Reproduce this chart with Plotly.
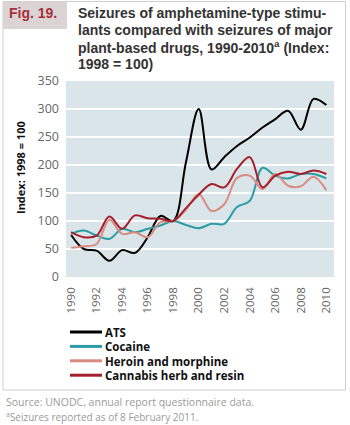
import plotly.graph_objects as go

years = list(range(1990, 2011))
ats = [75, 50, 47, 29, 48, 43, 71, 109, 100, 205, 300, 192, 214, 234, 249, 267, 282, 297, 263, 318, 307]
cocaine = [77, 83, 74, 68, 86, 80, 86, 92, 100, 93, 87, 95, 95, 125, 136, 195, 181, 176, 184, 184, 176]
heroin = [52, 55, 59, 102, 77, 80, 71, 98, 100, 120, 148, 118, 130, 177, 181, 157, 184, 163, 162, 179, 155]
cannabis = [80, 71, 74, 108, 86, 110, 105, 104, 100, 123, 147, 166, 160, 193, 214, 160, 181, 188, 184, 190, 184]

series_names = ["ATS", "Cocaine", "Heroin and morphine", "Cannabis herb and resin"]
series_values = [ats, cocaine, heroin, cannabis]
series_colors = ["#000000", "#2b9ca4", "#d98b82", "#a51f2d"]

y_ticks = [0, 50, 100, 150, 200, 250, 300, 350]
x_ticks = list(range(1990, 2011, 2))

W, H = 350, 425
ML, MR, MT, MB = 66, 16, 81, 148
PW, PH = W - ML - MR, H - MT - MB


def px(x):
    return (x - ML) / PW


def py(y):
    return (H - MB - y) / PH


fig = go.Figure()
for name, vals, col in zip(series_names, series_values, series_colors):
    fig.add_trace(go.Scatter(
        x=years, y=vals, mode="lines", name=name,
        line=dict(color=col, width=2, shape="spline", smoothing=1.0),
        showlegend=False,
    ))

shapes = []
annotations = []

# outer frame
shapes.append(dict(type="rect", xref="paper", yref="paper",
                   x0=px(3), x1=px(345.5), y0=py(390), y1=py(1.5),
                   line=dict(color="#cfcfcf", width=1), fillcolor="rgba(0,0,0,0)", layer="below"))
# Fig. box
shapes.append(dict(type="rect", xref="paper", yref="paper",
                   x0=px(3), x1=px(67), y0=py(29), y1=py(1.5),
                   line=dict(width=0), fillcolor="#dcd4d4", layer="below"))

annotations.append(dict(text="<b>Fig. 19.</b>", xref="paper", yref="paper",
                        x=px(7), y=py(13.5), xanchor="left", yanchor="middle", showarrow=False,
                        font=dict(family="Liberation Sans, Arial", size=14, color="#a8313b")))

title_lines = [
    "Seizures of amphetamine-type stimu-",
    "lants compared with seizures of major",
    "plant-based drugs, 1990-2010<sup>a</sup> (Index:",
    "1998 = 100)",
]
for i, t in enumerate(title_lines):
    annotations.append(dict(text="<b>" + t + "</b>", xref="paper", yref="paper",
                            x=px(76), y=py(13.5 + 16.7 * i), xanchor="left", yanchor="middle",
                            showarrow=False,
                            font=dict(family="Liberation Sans, Arial", size=14, color="#333333")))

# y axis title
annotations.append(dict(text="<b>Index: 1998 = 100</b>", xref="paper", yref="paper",
                        x=px(20), y=py(168), xanchor="center", yanchor="middle", textangle=-90,
                        showarrow=False,
                        font=dict(family="Open Sans, Noto Sans", size=11, color="#111111")))

# legend (manual)
for i, (name, col) in enumerate(zip(series_names, series_colors)):
    yy = 332 + 14.4 * i
    shapes.append(dict(type="line", xref="paper", yref="paper",
                       x0=px(70), x1=px(102), y0=py(yy), y1=py(yy),
                       line=dict(color=col, width=3)))
    annotations.append(dict(text="<b>" + name + "</b>", xref="paper", yref="paper",
                            x=px(103), y=py(yy + 0.5), xanchor="left", yanchor="middle",
                            showarrow=False,
                            font=dict(family="Open Sans, Noto Sans", size=11.5, color="#111111")))

annotations.append(dict(text="Source: UNODC, annual report questionnaire data.", xref="paper", yref="paper",
                        x=px(4), y=py(402), xanchor="left", yanchor="middle", showarrow=False,
                        font=dict(family="Open Sans, Noto Sans", size=10.5, color="#9a9a9a")))
annotations.append(dict(text="<sup>a</sup>Seizures reported as of 8 February 2011.", xref="paper", yref="paper",
                        x=px(4), y=py(416.5), xanchor="left", yanchor="middle", showarrow=False,
                        font=dict(family="Open Sans, Noto Sans", size=10, color="#9a9a9a")))

fig.update_layout(
    width=W, height=H,
    margin=dict(l=ML, r=MR, t=MT, b=MB, pad=0),
    paper_bgcolor="white",
    plot_bgcolor="#d9e5e8",
    shapes=shapes,
    annotations=annotations,
    showlegend=False,
    xaxis=dict(range=[1989.6, 2010.6], tickvals=x_ticks, ticktext=[str(v) for v in x_ticks],
               tickangle=-90, showgrid=False, zeroline=False, ticks="", showline=False,
               tickfont=dict(family="Open Sans, Noto Sans", size=11.5, color="#666666"),
               ticklabelstandoff=7),
    yaxis=dict(range=[0, 350], tickvals=y_ticks, showgrid=True, gridcolor="white", gridwidth=1.5,
               zeroline=False, ticks="", showline=False,
               tickfont=dict(family="Open Sans, Noto Sans", size=12.5, color="#666666"),
               ticklabelstandoff=6),
)

fig.write_html("out.html")
